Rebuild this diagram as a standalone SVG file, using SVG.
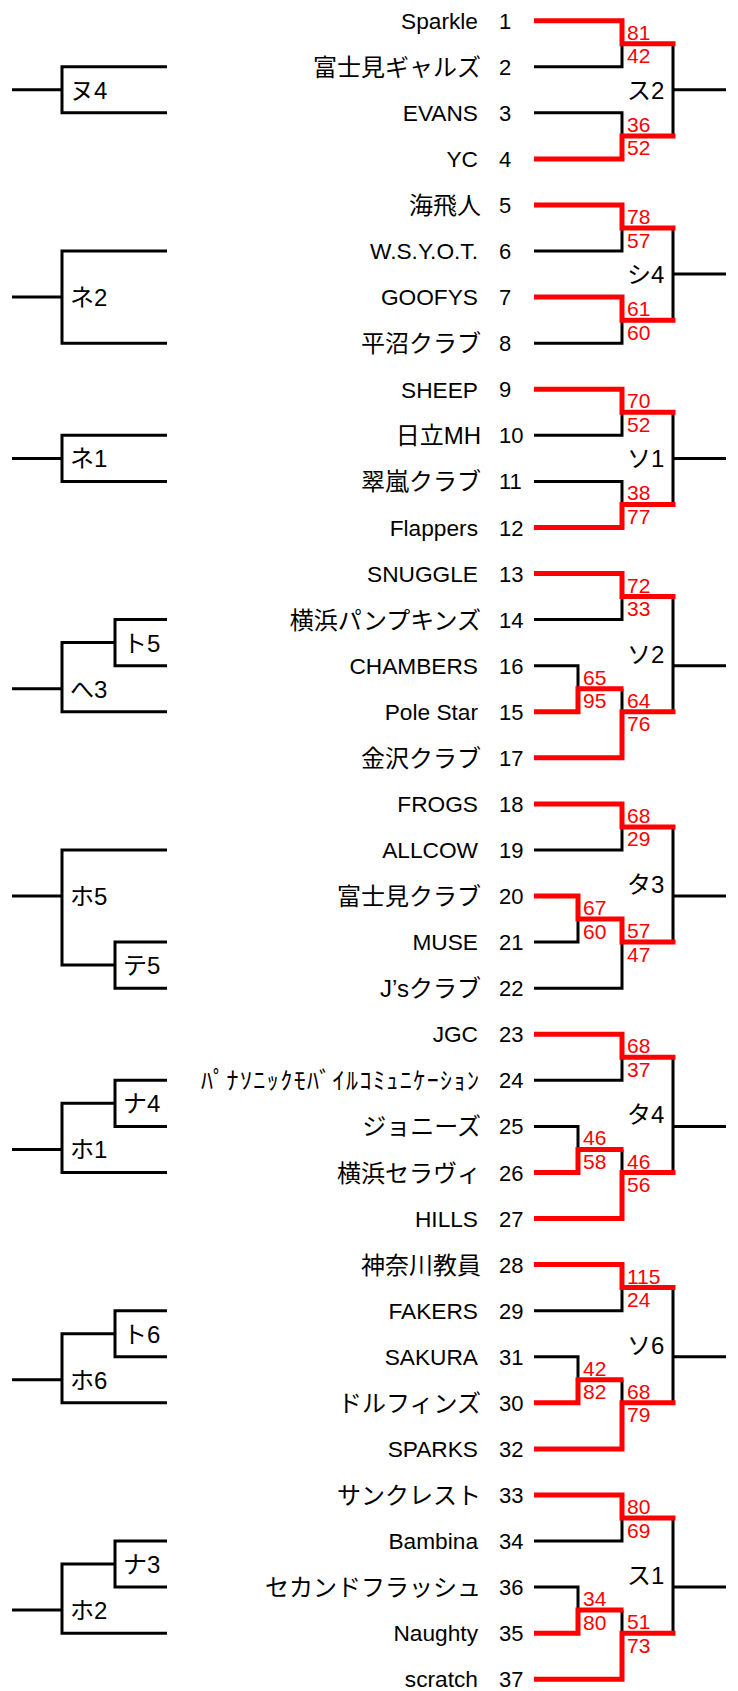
<svg xmlns="http://www.w3.org/2000/svg" width="738" height="1691" viewBox="0 0 738 1691">
<style>
.b{stroke:#000;stroke-width:3;fill:none;stroke-linejoin:miter}
.r{stroke:#f00;stroke-width:5;fill:none;stroke-linejoin:miter}
text{font-family:"Liberation Sans","Noto Sans CJK JP",sans-serif;fill:#000}
.n{font-size:22.7px;text-anchor:end}
.j{font-size:24px;text-anchor:end}
.num{font-size:22px}
.lb{font-size:24px}
.s text{font-family:"Liberation Sans Narrow","Liberation Sans",sans-serif;font-size:21px;fill:#f00}
</style>
<rect width="738" height="1691" fill="#fff"/>
<g id="connectors">
<path class="b" d="M167,66.8 H62 V112.8 H167 M12,89.8 H62"/>
<path class="b" d="M167,251.1 H62 V343.2 H167 M12,297.1 H62"/>
<path class="b" d="M167,435.3 H62 V481.4 H167 M12,458.4 H62"/>
<path class="b" d="M167,619.6 H115 V665.7 H167 M115,642.6 H62 V711.8 H167 M12,688.7 H62"/>
<path class="b" d="M167,942.1 H115 V988.2 H167 M115,965.1 H62 V850 H167 M12,896 H62"/>
<path class="b" d="M167,1080.3 H115 V1126.4 H167 M115,1103.3 H62 V1172.5 H167 M12,1149.4 H62"/>
<path class="b" d="M167,1310.7 H115 V1356.7 H167 M115,1333.7 H62 V1402.8 H167 M12,1379.8 H62"/>
<path class="b" d="M167,1541 H115 V1587.1 H167 M115,1564 H62 V1633.2 H167 M12,1610.1 H62"/>
<path class="b" d="M534,66.8 H622 V43.7 M534,112.8 H622 V135.9 M673,43.7 V135.9 M673,89.8 H726"/>
<path class="b" d="M534,251.1 H622 V228 M534,343.2 H622 V320.2 M673,228 V320.2 M673,274.1 H726"/>
<path class="b" d="M534,435.3 H622 V412.3 M534,481.4 H622 V504.4 M673,412.3 V504.4 M673,458.4 H726"/>
<path class="b" d="M534,619.6 H622 V596.6 M534,665.7 H578 V688.7 M622,688.7 V711.8 M673,596.6 V711.8 M673,665.7 H726"/>
<path class="b" d="M534,850 H622 V826.9 M534,942.1 H578 V919.1 M534,988.2 H622 V942.1 M673,826.9 V942.1 M673,896 H726"/>
<path class="b" d="M534,1080.3 H622 V1057.3 M534,1126.4 H578 V1149.4 M622,1149.4 V1172.5 M673,1057.3 V1172.5 M673,1126.4 H726"/>
<path class="b" d="M534,1310.7 H622 V1287.6 M534,1356.7 H578 V1379.8 M622,1379.8 V1402.8 M673,1287.6 V1402.8 M673,1356.7 H726"/>
<path class="b" d="M534,1541 H622 V1518 M534,1587.1 H578 V1610.1 M622,1610.1 V1633.2 M673,1518 V1633.2 M673,1587.1 H726"/>
<path class="r" d="M534,20.7 H622 V43.7 H675.5 M534,158.9 H622 V135.9 H675.5"/>
<path class="r" d="M534,205 H622 V228 H675.5 M534,297.1 H622 V320.2 H675.5"/>
<path class="r" d="M534,389.3 H622 V412.3 H675.5 M534,527.5 H622 V504.4 H675.5"/>
<path class="r" d="M534,573.5 H622 V596.6 H675.5 M534,711.8 H578 V688.7 H623.5 M534,757.8 H622 V711.8 H675.5"/>
<path class="r" d="M534,803.9 H622 V826.9 H675.5 M534,896 H578 V919.1 H622 V942.1 H675.5"/>
<path class="r" d="M534,1034.2 H622 V1057.3 H675.5 M534,1172.5 H578 V1149.4 H623.5 M534,1218.5 H622 V1172.5 H675.5"/>
<path class="r" d="M534,1264.6 H622 V1287.6 H675.5 M534,1402.8 H578 V1379.8 H623.5 M534,1448.9 H622 V1402.8 H675.5"/>
<path class="r" d="M534,1494.9 H622 V1518 H675.5 M534,1633.2 H578 V1610.1 H623.5 M534,1679.2 H622 V1633.2 H675.5"/>
<g class="s">
<text x="627" y="39.7">81</text><text x="627" y="63.2">42</text>
<text x="627" y="131.9">36</text><text x="627" y="155.4">52</text>
<text x="627" y="224">78</text><text x="627" y="247.5">57</text>
<text x="627" y="316.2">61</text><text x="627" y="339.7">60</text>
<text x="627" y="408.3">70</text><text x="627" y="431.8">52</text>
<text x="627" y="500.4">38</text><text x="627" y="523.9">77</text>
<text x="627" y="592.6">72</text><text x="627" y="616.1">33</text>
<text x="583" y="684.7">65</text><text x="583" y="708.2">95</text>
<text x="627" y="707.8">64</text><text x="627" y="731.3">76</text>
<text x="627" y="822.9">68</text><text x="627" y="846.4">29</text>
<text x="583" y="915.1">67</text><text x="583" y="938.6">60</text>
<text x="627" y="938.1">57</text><text x="627" y="961.6">47</text>
<text x="627" y="1053.3">68</text><text x="627" y="1076.8">37</text>
<text x="583" y="1145.4">46</text><text x="583" y="1168.9">58</text>
<text x="627" y="1168.5">46</text><text x="627" y="1192">56</text>
<text x="627" y="1283.6">115</text><text x="627" y="1307.1">24</text>
<text x="583" y="1375.8">42</text><text x="583" y="1399.3">82</text>
<text x="627" y="1398.8">68</text><text x="627" y="1422.3">79</text>
<text x="627" y="1514">80</text><text x="627" y="1537.5">69</text>
<text x="583" y="1606.1">34</text><text x="583" y="1629.6">80</text>
<text x="627" y="1629.2">51</text><text x="627" y="1652.7">73</text>
</g>
</g>
<g id="m-nu4"><text class="lb" x="70" y="98.8">ヌ4</text></g>
<g id="m-ne2"><text class="lb" x="70" y="306.1">ネ2</text></g>
<g id="m-ne1"><text class="lb" x="70" y="467.4">ネ1</text></g>
<g id="m-to5"><text class="lb" x="123" y="651.6">ト5</text></g>
<g id="m-he3"><text class="lb" x="70" y="697.7">へ3</text></g>
<g id="m-ho5"><text class="lb" x="70" y="905">ホ5</text></g>
<g id="m-te5"><text class="lb" x="123" y="974.1">テ5</text></g>
<g id="m-na4"><text class="lb" x="123" y="1112.3">ナ4</text></g>
<g id="m-ho1"><text class="lb" x="70" y="1158.4">ホ1</text></g>
<g id="m-to6"><text class="lb" x="123" y="1342.7">ト6</text></g>
<g id="m-ho6"><text class="lb" x="70" y="1388.8">ホ6</text></g>
<g id="m-na3"><text class="lb" x="123" y="1573">ナ3</text></g>
<g id="m-ho2"><text class="lb" x="70" y="1619.1">ホ2</text></g>
<g id="m-su2"><text class="lb" x="627" y="98.8">ス2</text></g>
<g id="m-shi4"><text class="lb" x="627" y="283.1">シ4</text></g>
<g id="m-so1"><text class="lb" x="627" y="467.4">ソ1</text></g>
<g id="m-so2"><text class="lb" x="627" y="662.7">ソ2</text></g>
<g id="m-ta3"><text class="lb" x="627" y="893">タ3</text></g>
<g id="m-ta4"><text class="lb" x="627" y="1123.4">タ4</text></g>
<g id="m-so6"><text class="lb" x="627" y="1353.7">ソ6</text></g>
<g id="m-su1"><text class="lb" x="627" y="1584.1">ス1</text></g>
<g id="team-1"><text class="n" x="478" y="28.9">Sparkle</text><text class="num" x="499" y="28.7">1</text></g>
<g id="team-2"><text class="j" x="481" y="75.8">富士見ギャルズ</text><text class="num" x="499" y="74.8">2</text></g>
<g id="team-3"><text class="n" x="478" y="121">EVANS</text><text class="num" x="499" y="120.8">3</text></g>
<g id="team-4"><text class="n" x="478" y="167.1">YC</text><text class="num" x="499" y="166.9">4</text></g>
<g id="team-5"><text class="j" x="481" y="214">海飛人</text><text class="num" x="499" y="213">5</text></g>
<g id="team-6"><text class="n" x="478" y="259.3">W.S.Y.O.T.</text><text class="num" x="499" y="259.1">6</text></g>
<g id="team-7"><text class="n" x="478" y="305.3">GOOFYS</text><text class="num" x="499" y="305.1">7</text></g>
<g id="team-8"><text class="j" x="481" y="352.2">平沼クラブ</text><text class="num" x="499" y="351.2">8</text></g>
<g id="team-9"><text class="n" x="478" y="397.5">SHEEP</text><text class="num" x="499" y="397.3">9</text></g>
<g id="team-10"><text class="j" x="481" y="444.3">日立MH</text><text class="num" x="499" y="443.3">10</text></g>
<g id="team-11"><text class="j" x="481" y="490.4">翠嵐クラブ</text><text class="num" x="499" y="489.4">11</text></g>
<g id="team-12"><text class="n" x="478" y="535.7">Flappers</text><text class="num" x="499" y="535.5">12</text></g>
<g id="team-13"><text class="n" x="478" y="581.7">SNUGGLE</text><text class="num" x="499" y="581.5">13</text></g>
<g id="team-14"><text class="j" x="481" y="628.6">横浜パンプキンズ</text><text class="num" x="499" y="627.6">14</text></g>
<g id="team-16"><text class="n" x="478" y="673.9">CHAMBERS</text><text class="num" x="499" y="673.7">16</text></g>
<g id="team-15"><text class="n" x="478" y="720">Pole Star</text><text class="num" x="499" y="719.8">15</text></g>
<g id="team-17"><text class="j" x="481" y="766.8">金沢クラブ</text><text class="num" x="499" y="765.8">17</text></g>
<g id="team-18"><text class="n" x="478" y="812.1">FROGS</text><text class="num" x="499" y="811.9">18</text></g>
<g id="team-19"><text class="n" x="478" y="858.2">ALLCOW</text><text class="num" x="499" y="858">19</text></g>
<g id="team-20"><text class="j" x="481" y="905">富士見クラブ</text><text class="num" x="499" y="904">20</text></g>
<g id="team-21"><text class="n" x="478" y="950.3">MUSE</text><text class="num" x="499" y="950.1">21</text></g>
<g id="team-22"><text class="j" x="481" y="997.2">J’sクラブ</text><text class="num" x="499" y="996.2">22</text></g>
<g id="team-23"><text class="n" x="478" y="1042.4">JGC</text><text class="num" x="499" y="1042.2">23</text></g>
<g id="team-24"><text class="j" x="479" y="1089.3" textLength="278" lengthAdjust="spacing">ﾊﾟﾅｿﾆｯｸﾓﾊﾞｲﾙｺﾐｭﾆｹｰｼｮﾝ</text><text class="num" x="499" y="1088.3">24</text></g>
<g id="team-25"><text class="j" x="481" y="1135.4">ジョニーズ</text><text class="num" x="499" y="1134.4">25</text></g>
<g id="team-26"><text class="j" x="481" y="1181.5">横浜セラヴィ</text><text class="num" x="499" y="1180.5">26</text></g>
<g id="team-27"><text class="n" x="478" y="1226.7">HILLS</text><text class="num" x="499" y="1226.5">27</text></g>
<g id="team-28"><text class="j" x="481" y="1273.6">神奈川教員</text><text class="num" x="499" y="1272.6">28</text></g>
<g id="team-29"><text class="n" x="478" y="1318.9">FAKERS</text><text class="num" x="499" y="1318.7">29</text></g>
<g id="team-31"><text class="n" x="478" y="1364.9">SAKURA</text><text class="num" x="499" y="1364.7">31</text></g>
<g id="team-30"><text class="j" x="481" y="1411.8">ドルフィンズ</text><text class="num" x="499" y="1410.8">30</text></g>
<g id="team-32"><text class="n" x="478" y="1457.1">SPARKS</text><text class="num" x="499" y="1456.9">32</text></g>
<g id="team-33"><text class="j" x="481" y="1503.9">サンクレスト</text><text class="num" x="499" y="1502.9">33</text></g>
<g id="team-34"><text class="n" x="478" y="1549.2">Bambina</text><text class="num" x="499" y="1549">34</text></g>
<g id="team-36"><text class="j" x="481" y="1596.1">セカンドフラッシュ</text><text class="num" x="499" y="1595.1">36</text></g>
<g id="team-35"><text class="n" x="478" y="1641.4">Naughty</text><text class="num" x="499" y="1641.2">35</text></g>
<g id="team-37"><text class="n" x="478" y="1687.4">scratch</text><text class="num" x="499" y="1687.2">37</text></g>
</svg>
